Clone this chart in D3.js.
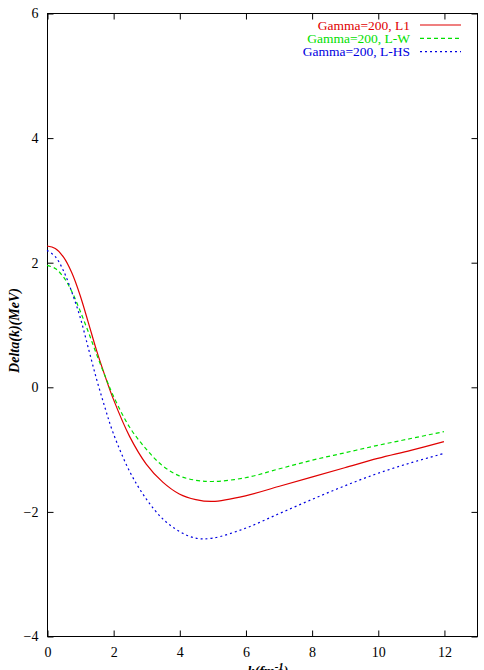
<!DOCTYPE html>
<html>
<head>
<meta charset="utf-8">
<script src="https://cdn.jsdelivr.net/npm/d3@7"></script>
<style>
body { margin: 0; background: #fff; }
svg text { font-family: "Liberation Serif", "Times New Roman", serif; }
</style>
</head>
<body>
<div class="container"></div>
<script>
// Data
const kValues = [0, 0.25, 0.5, 0.75, 1, 1.25, 1.5, 1.75, 2, 2.5, 3, 3.5, 4, 4.5, 5, 6, 7, 8, 9, 10, 11, 12];
const deltaL1 = [2.26, 2.22, 2.08, 1.83, 1.47, 1.03, 0.58, 0.18, -0.19, -0.80, -1.24, -1.53, -1.72, -1.81, -1.84, -1.75, -1.60, -1.45, -1.30, -1.15, -1.02, -0.88];
const deltaLW = [1.95, 1.90, 1.76, 1.53, 1.22, 0.88, 0.52, 0.18, -0.14, -0.65, -1.00, -1.27, -1.43, -1.50, -1.52, -1.46, -1.32, -1.18, -1.06, -0.94, -0.83, -0.72];
const deltaLHS = [2.19, 2.09, 1.86, 1.52, 1.12, 0.62, 0.12, -0.33, -0.74, -1.36, -1.80, -2.12, -2.32, -2.43, -2.43, -2.27, -2.04, -1.81, -1.59, -1.39, -1.22, -1.07];
const seriesNames = ["Gamma=200, L1", "Gamma=200, L-W", "Gamma=200, L-HS"];
const seriesColors = ["#e00000", "#00e000", "#0000e0"];
const seriesDash = [null, "4,3", "2,3"];
const xTicks = [0, 2, 4, 6, 8, 10, 12];
const yTicks = [-4, -2, 0, 2, 4, 6];

const w = 484;
const h = 670;
const padL = 47, padR = 477, padT = 13, padB = 636;

const xScale = d3.scaleLinear().domain([0, 13]).range([padL, padR]);
const yScale = d3.scaleLinear().domain([-4, 6]).range([padB, padT]);

const svg = d3.select(".container")
       .append("svg")
       .attr("width", w)
       .attr("height", h);

// frame
svg.append("rect")
       .attr("x", padL + 0.5)
       .attr("y", padT + 0.5)
       .attr("width", padR - padL)
       .attr("height", padB - padT)
       .attr("fill", "none")
       .attr("stroke", "#000")
       .attr("stroke-width", 1);

// axes (ticks inward, mirrored)
const xAxis = d3.axisBottom(xScale).tickValues(xTicks).tickSizeInner(-6).tickSizeOuter(0).tickPadding(11);
const gx = svg.append("g").attr("transform", `translate(0.5,${padB + 0.5})`).call(xAxis);
const gxTop = svg.append("g").attr("transform", `translate(0.5,${padT + 0.5})`)
       .call(d3.axisTop(xScale).tickValues(xTicks).tickSizeInner(-6).tickSizeOuter(0).tickFormat(""));
const yAxis = d3.axisLeft(yScale).tickValues(yTicks).tickSizeInner(-6).tickSizeOuter(0).tickPadding(9);
const gy = svg.append("g").attr("transform", `translate(${padL + 0.5},0.5)`).call(yAxis);
const gyRight = svg.append("g").attr("transform", `translate(${padR + 0.5},0.5)`)
       .call(d3.axisRight(yScale).tickValues(yTicks).tickSizeInner(-6).tickSizeOuter(0).tickFormat(""));

[gx, gxTop, gy, gyRight].forEach(g => {
  g.select(".domain").remove();
  g.selectAll("line").attr("stroke", "#000");
  g.selectAll("text")
    .attr("fill", "#000")
    .style("font-size", "14px")
    .style("font-family", "'Liberation Serif', serif");
});

// curves
const allSeries = [deltaL1, deltaLW, deltaLHS];
const line = d3.line()
       .x((d, i) => xScale(kValues[i]))
       .y(d => yScale(d))
       .curve(d3.curveCatmullRom.alpha(0.5));

allSeries.forEach((vals, s) => {
  svg.append("path")
     .datum(vals)
     .attr("d", line)
     .attr("fill", "none")
     .attr("stroke", seriesColors[s])
     .attr("stroke-width", 1.2)
     .attr("stroke-dasharray", seriesDash[s]);
});

// legend
seriesNames.forEach((name, s) => {
  const y = 25 + s * 13.3;
  svg.append("text")
     .attr("x", 410)
     .attr("y", y + 4.5)
     .attr("text-anchor", "end")
     .attr("fill", seriesColors[s])
     .style("font-size", "13.5px")
     .text(name);
  svg.append("line")
     .attr("x1", 420).attr("x2", 461)
     .attr("y1", y).attr("y2", y)
     .attr("stroke", seriesColors[s])
     .attr("stroke-width", 1.2)
     .attr("stroke-dasharray", seriesDash[s]);
});

// axis labels
svg.append("text")
    .attr("transform", `translate(19,${(padT + padB) / 2 + 6}) rotate(-90)`)
    .attr("text-anchor", "middle")
    .style("font-size", "14px")
    .style("font-style", "italic")
    .style("font-weight", "bold")
    .text("Delta(k)(MeV)");

const xl = svg.append("text")
    .attr("x", (padL + padR) / 2 + 6)
    .attr("y", 676)
    .attr("text-anchor", "middle")
    .style("font-size", "14px")
    .style("font-style", "italic")
    .style("font-weight", "bold");
xl.append("tspan").text("k(fm");
xl.append("tspan").attr("dy", -6).style("font-size", "11px").text("-1");
xl.append("tspan").attr("dy", 6).text(")");
</script>
</body>
</html>
